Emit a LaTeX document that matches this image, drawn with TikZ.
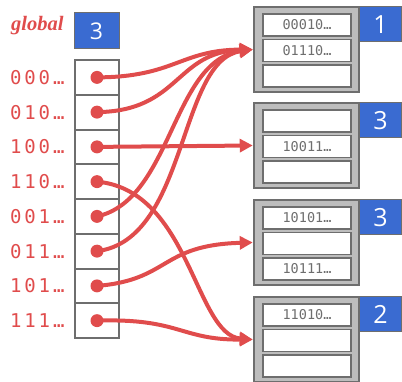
\documentclass[tikz,border=0pt]{standalone}
\usepackage{fontspec}
\setmainfont{Open Sans}
\newfontfamily\keyfont[LetterSpace=15]{DejaVu Sans Mono}
\newfontfamily\slotfont{DejaVu Sans Mono}
\newfontfamily\globfont{Liberation Serif}
\usetikzlibrary{arrows.meta}
\definecolor{hRed}{HTML}{E04C4C}
\definecolor{hBlue}{HTML}{3A6BD1}
\definecolor{hGray}{HTML}{6E6E6E}
\definecolor{hFill}{HTML}{BDBDBD}

\begin{document}
\begin{tikzpicture}[x=1pt, y=-1pt,
    cell/.style={draw=hGray, line width=2pt, minimum width=44pt, minimum height=34.75pt, inner sep=0pt},
    dot/.style={circle, fill=hRed, minimum size=13pt, inner sep=0pt},
    key/.style={anchor=east, text=hRed, font=\keyfont\fontsize{19}{19}\selectfont},
    bucket/.style={draw=hGray, fill=hFill, line width=2.5pt, minimum width=105pt, minimum height=85pt, inner sep=0pt},
    slot/.style={draw=hGray, fill=white, line width=1.5pt, minimum width=88pt, minimum height=22pt, inner sep=0pt,
      text=hGray, font=\slotfont\fontsize{13.5}{13.5}\selectfont},
    depth/.style={draw=hGray, fill=hBlue, line width=1pt, minimum width=42pt, minimum height=35pt, inner sep=0pt,
      text=white, font=\fontsize{25}{25}\selectfont},
    ptr/.style={draw=hRed, line width=4pt, -{Triangle[length=13pt, width=13pt]}}]
  \useasboundingbox (0,0) rectangle (402,382);
  % global depth
  \node[anchor=east, text=hRed, font=\globfont\bfseries\itshape\fontsize{20.5}{20.5}\selectfont] (gl) at (67,26) {global};
  \node[depth, minimum width=45pt, minimum height=36pt, font=\fontsize{23}{23}\selectfont] (gd) at (96.5,31) {3};
  % directory
  \foreach \k [count=\i from 0] in {000…,010…,100…,110…,001…,011…,101…,111…} {
    \node[cell] (d\i) at (97,77.4+\i*34.75) {};
    \node[dot] (p\i) at (d\i.center) {};
    \node[key] (k\i) at (68,77.4+\i*34.75) {\k};
  }
  % buckets
  \foreach \t/\d/\sa/\sb/\sc [count=\i] in
    {7/1/00010…/01110…/{}, 103/3/{}/10011…/{}, 200/3/10101…/{}/10111…, 297/2/11010…/{}/{}} {
    \node[bucket] (b\i) at (306.5,\t+42.5) {};
    \node[slot] (s\i a) at (307,\t+18) {\sa};
    \node[slot] (s\i b) at (307,\t+43.5) {\sb};
    \node[slot] (s\i c) at (307,\t+69) {\sc};
    \node[depth] (g\i) at (380.5,\t+17.5) {\d};
  }
  % pointers
  \draw[ptr] (p0.center) .. controls (175,77) and (180,50) .. (b1.west);
  \draw[ptr] (p1.center) .. controls (180,111) and (175,52) .. (b1.west);
  \draw[ptr] (p4.center) .. controls (172,200) and (172,60) .. (b1.west);
  \draw[ptr] (p5.center) .. controls (188,240) and (178,60) .. (b1.west);
  \draw[ptr] (p2.center) -- (b2.west);
  \draw[ptr] (p6.center) .. controls (170,280) and (160,245) .. (b3.west);
  \draw[ptr] (p3.center) .. controls (190,190) and (195,335) .. (b4.west);
  \draw[ptr] (p7.center) .. controls (180,318) and (180,340) .. (b4.west);
\end{tikzpicture}
\end{document}
